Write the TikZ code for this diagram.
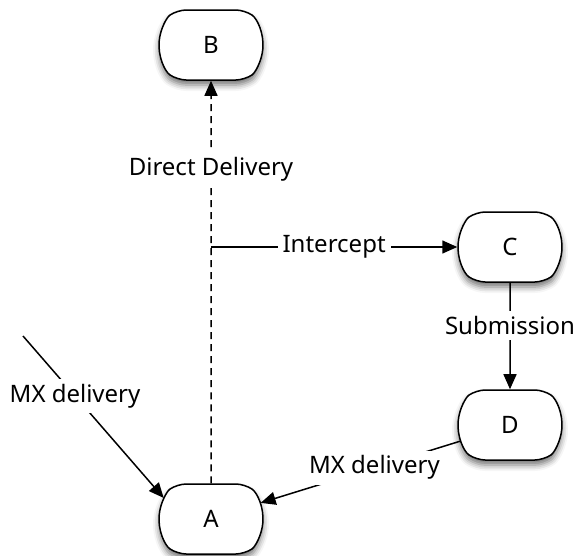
\documentclass[tikz,border=0pt]{standalone}
\usepackage{fontspec}
\setmainfont{Noto Sans}
\usetikzlibrary{shapes.misc,arrows.meta,shadows.blur}

\begin{document}
\begin{tikzpicture}[x=1pt,y=-1pt,font=\fontsize{24}{28}\selectfont]\tikzset{host/.style = {shape=rounded rectangle, rounded rectangle arc length=110, rounded corners=9pt, draw, line width=1.5pt, fill=white, minimum width=104pt, minimum height=70pt, inner sep=0pt, blur shadow={shadow xshift=0pt, shadow yshift=-5pt, shadow blur radius=6pt, shadow opacity=55}},
		tag/.style = {fill=white, inner sep=5pt},
		link/.style = {line width=1.5pt, -{Triangle[length=15pt,width=13pt]}}}

		\useasboundingbox (0,0) rectangle (576,555);

		\node[host] (B) at (211,45) {B};
		\node[host] (C) at (510,247) {C};
		\node[host] (D) at (510,425) {D};
		\node[host] (A) at (211,519) {A};

		\coordinate (tap) at (211,247);
		\coordinate (mx_1) at (23,336);

		\draw[link, dash pattern=on 7pt off 5pt] (A) -- node[tag, pos=0.78] {Direct Delivery} (B);
		\draw[link] (tap) -- node[tag] {Intercept} (C);
		\draw[link] (C) -- node[tag, pos=0.4] {Submission} (D);
		\draw[link] (mx_1) -- node[tag, pos=0.37] {MX delivery} (A.156);
		\draw[link] (D.198) -- node[tag, pos=0.43] {MX delivery} (A.18);
	\end{tikzpicture}
\end{document}
